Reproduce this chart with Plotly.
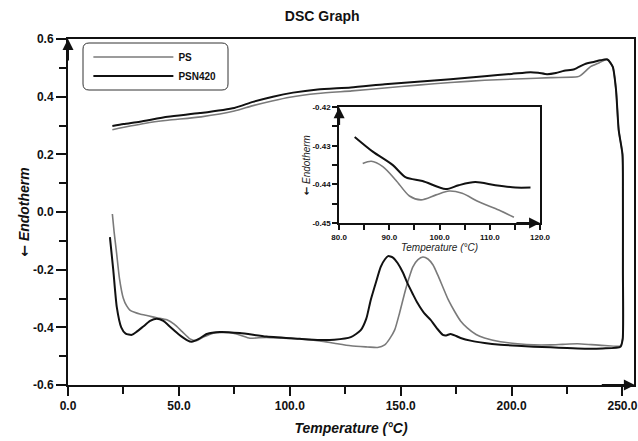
import plotly.graph_objects as go

# ---------------- DATA ----------------
# PSN420 (black) - lower (heating) branch
psn_low_x = [18.9, 20.4, 22, 24, 26, 28.8, 31, 33.8, 37, 40, 43, 46, 50, 53.6, 55.8, 59, 62.6,
             68.5, 77.5, 89.5, 104.5, 113.5, 120, 127.5, 132, 134.5, 136.5, 139, 141, 143, 144.3,
             146.5, 148.6, 151, 153, 155.5, 157.6, 160.5, 163.5, 166.5, 169, 170.5, 172.5, 175,
             177, 182, 187.8, 195, 202.7, 210, 217.6, 225, 233, 241, 249.1]
psn_low_y = [-0.087, -0.2, -0.33, -0.40, -0.422, -0.426, -0.415, -0.398, -0.378, -0.37, -0.378,
             -0.398, -0.425, -0.444, -0.45, -0.44, -0.423, -0.416, -0.42, -0.432, -0.44, -0.444,
             -0.443, -0.434, -0.41, -0.37, -0.305, -0.24, -0.19, -0.163, -0.153, -0.158, -0.177,
             -0.21, -0.246, -0.285, -0.316, -0.35, -0.374, -0.405, -0.426, -0.428, -0.423, -0.43,
             -0.437, -0.447, -0.454, -0.46, -0.464, -0.467, -0.469, -0.472, -0.474, -0.473, -0.467]
# return branch at 250 °C (shared shape)
turn_x = [250.1, 250.2, 250.2, 250.0, 248.3, 247.1, 245.6]
turn_y = [-0.44, -0.2, 0.05, 0.2, 0.284, 0.423, 0.504]
# PSN420 upper branch (from hot end back to start)
psn_up_x = [243.2, 240, 237.4, 233, 228.3, 223.7, 220, 216, 212, 208.5, 200, 187.8, 172.5, 157.6,
            142.8, 127.5, 112.6, 101.5, 92.4, 83.4, 75, 59.5, 45, 32.4, 25, 20]
psn_up_y = [0.529, 0.526, 0.521, 0.513, 0.495, 0.49, 0.482, 0.478, 0.483, 0.485, 0.479, 0.471,
            0.46, 0.452, 0.443, 0.432, 0.425, 0.414, 0.40, 0.382, 0.361, 0.343, 0.33, 0.313,
            0.305, 0.298]

# PS (grey) - lower branch
ps_low_x = [20, 20.8, 21.9, 23.2, 24.9, 26.4, 27.9, 30, 32.4, 36, 40, 44.6, 48, 51.5, 55, 58,
            61, 65.5, 70, 74.5, 78, 82, 86, 89.5, 97, 104.5, 113.5, 120, 127.5, 135, 139.6,
            142.8, 145, 147.3, 149.5, 151.8, 153.7, 155.5, 157.8, 160, 162.3, 164.6, 166.8,
            169, 171.5, 174.4, 177, 180, 184, 187.8, 195, 202.7, 210, 217.6, 223, 229.7, 236,
            242, 249.1]
ps_low_y = [-0.007, -0.07, -0.142, -0.23, -0.298, -0.325, -0.34, -0.348, -0.354, -0.36, -0.367,
            -0.374, -0.39, -0.415, -0.44, -0.446, -0.434, -0.42, -0.418, -0.42, -0.428, -0.438,
            -0.436, -0.435, -0.438, -0.44, -0.447, -0.455, -0.464, -0.468, -0.47, -0.461, -0.44,
            -0.409, -0.35, -0.281, -0.23, -0.19, -0.165, -0.156, -0.163, -0.184, -0.22, -0.26,
            -0.305, -0.346, -0.378, -0.402, -0.425, -0.437, -0.45, -0.457, -0.461, -0.461,
            -0.459, -0.457, -0.46, -0.463, -0.464]
ps_up_x = [243.2, 239.6, 237.5, 235.6, 233, 231, 229.7, 217.6, 205, 187.8, 172.5, 157.6, 142.8,
           128, 112.6, 100, 92, 83, 75, 60, 45, 35, 28, 20]
ps_up_y = [0.529, 0.518, 0.511, 0.504, 0.486, 0.473, 0.469, 0.466, 0.462, 0.457, 0.449, 0.44,
           0.43, 0.42, 0.411, 0.398, 0.385, 0.368, 0.35, 0.33, 0.318, 0.308, 0.298, 0.285]

# inset (zoom of upper branch)
in_psn_x = [83.1, 86.7, 90.7, 93.3, 96.6, 101.2, 103.8, 107.1, 111.1, 115.1, 118.1]
in_psn_y = [-0.4277, -0.4315, -0.435, -0.4382, -0.4391, -0.4412, -0.4402, -0.4394, -0.4402,
            -0.4408, -0.4408]
in_ps_x = [84.7, 86.4, 88.7, 91.3, 94.0, 96.3, 99.3, 101.9, 104.5, 107.8, 111.8, 114.8]
in_ps_y = [-0.4346, -0.4340, -0.4354, -0.4389, -0.443, -0.444, -0.4427, -0.4417, -0.4423,
           -0.4445, -0.4466, -0.4485]

x_ticks = [0, 50, 100, 150, 200, 250]
x_ticktext = ["0.0", "50.0", "100.0", "150.0", "200.0", "250.0"]
y_ticks = [0.6, 0.4, 0.2, 0.0, -0.2, -0.4, -0.6]
y_ticktext = ["0.6", "0.4", "0.2", "0.0", "-0.2", "-0.4", "-0.6"]
in_x_ticks = [80, 90, 100, 110, 120]
in_x_ticktext = ["80.0", "90.0", "100.0", "110.0", "120.0"]
in_y_ticks = [-0.42, -0.43, -0.44, -0.45]
in_y_ticktext = ["-0.42", "-0.43", "-0.44", "-0.45"]

series_names = ["PS", "PSN420"]
# --------------------------------------

FONT = "Liberation Sans, Arial, sans-serif"
GREY = "#7a7a7a"
BLACK = "#111111"
ARROW = ('<span style="font-family:DejaVu Sans;font-weight:bold;font-style:normal;'
         'fill:#111111">←</span>')

fig = go.Figure()

fig.add_trace(go.Scatter(x=ps_low_x + turn_x + ps_up_x, y=ps_low_y + turn_y + ps_up_y,
                         mode="lines", name=series_names[0],
                         line=dict(color=GREY, width=1.6, shape="spline", smoothing=0.6)))
fig.add_trace(go.Scatter(x=psn_low_x + turn_x + psn_up_x, y=psn_low_y + turn_y + psn_up_y,
                         mode="lines", name=series_names[1],
                         line=dict(color=BLACK, width=2.0, shape="spline", smoothing=0.6)))
fig.add_trace(go.Scatter(x=in_ps_x, y=in_ps_y, mode="lines", showlegend=False,
                         xaxis="x2", yaxis="y2",
                         line=dict(color=GREY, width=1.6, shape="spline", smoothing=0.8)))
fig.add_trace(go.Scatter(x=in_psn_x, y=in_psn_y, mode="lines", showlegend=False,
                         xaxis="x2", yaxis="y2",
                         line=dict(color=BLACK, width=2.0, shape="spline", smoothing=0.8)))

bold = dict(family=FONT, size=12, color="#111", weight="bold")
small = dict(family=FONT, size=8, color="#111", weight="bold")

fig.update_layout(
    width=638, height=441,
    margin=dict(l=68, r=4, t=39, b=56, autoexpand=False),
    paper_bgcolor="white", plot_bgcolor="white",
    font=dict(family=FONT, color="#111"),
    title=dict(text="DSC Graph", x=0.505, xanchor="center", y=0.963, yanchor="middle",
               font=dict(family=FONT, size=14, weight="bold", color="#111")),
    xaxis=dict(range=[0, 255.2], domain=[0, 1], showline=True, linecolor="#111", linewidth=2,
               mirror=True, showgrid=False, zeroline=False, automargin=False,
               tickmode="array", tickvals=x_ticks, ticktext=x_ticktext,
               ticks="outside", ticklen=9, tickwidth=2, tickcolor="#111", tickfont=bold,
               minor=dict(tickvals=[25, 75, 125, 175, 225], ticks="outside", ticklen=7,
                          tickwidth=2, tickcolor="#111"),
               title=dict(text="Temperature (°C)", standoff=11,
                          font=dict(family=FONT, size=14, weight="bold", style="italic",
                                    color="#111"))),
    yaxis=dict(range=[-0.6, 0.6], domain=[0, 1], showline=True, linecolor="#111", linewidth=2,
               mirror=True, showgrid=False, zeroline=False, automargin=False,
               tickmode="array", tickvals=y_ticks, ticktext=y_ticktext,
               ticks="outside", ticklen=10, tickwidth=2, tickcolor="#111", tickfont=bold,
               minor=dict(tickvals=[0.5, 0.3, 0.1, -0.1, -0.3, -0.5], ticks="outside",
                          ticklen=7, tickwidth=2, tickcolor="#111"),
               title=dict(text=ARROW + " Endotherm", standoff=0,
                          font=dict(family=FONT, size=14, weight="bold", style="italic",
                                    color="#111"))),
    xaxis2=dict(range=[80, 120], domain=[0.479, 0.834], anchor="y2", showline=True,
                linecolor="#111", linewidth=1.8, mirror=True, showgrid=False, zeroline=False,
                automargin=False,
                tickmode="array", tickvals=in_x_ticks, ticktext=in_x_ticktext,
                ticks="outside", ticklen=5, tickwidth=1.5, tickcolor="#111", tickfont=small,
                minor=dict(tickvals=[85, 95, 105, 115], ticks="outside", ticklen=5,
                           tickwidth=1.5, tickcolor="#111"),
                title=dict(text="Temperature (°C)", standoff=3,
                           font=dict(family=FONT, size=10, style="italic", color="#222"))),
    yaxis2=dict(range=[-0.45, -0.42], domain=[0.468, 0.803], anchor="x2", showline=True,
                linecolor="#111", linewidth=1.8, mirror=True, showgrid=False, zeroline=False,
                automargin=False,
                tickmode="array", tickvals=in_y_ticks, ticktext=in_y_ticktext,
                ticks="outside", ticklen=5, tickwidth=1.5, tickcolor="#111", tickfont=small,
                minor=dict(tickvals=[-0.425, -0.435, -0.445], ticks="outside", ticklen=5,
                           tickwidth=1.5, tickcolor="#111"),
                title=dict(text=ARROW + " Endotherm", standoff=0,
                           font=dict(family=FONT, size=10, style="italic", color="#222"))),
    legend=dict(x=0.036, y=0.99, xanchor="left", yanchor="top", bgcolor="rgba(0,0,0,0)",
                borderwidth=0, itemwidth=80, tracegroupgap=0,
                font=dict(family=FONT, size=10, weight="bold", color="#111")),
    showlegend=True,
)

# rounded legend frame (paper coords)
x0, x1 = (83 - 68) / 566, (228 - 68) / 566
y1, y0 = (385 - 43) / 346, (385 - 90) / 346
rx, ry = 6 / 566, 6 / 346
path = (f"M {x0+rx},{y0} L {x1-rx},{y0} Q {x1},{y0} {x1},{y0+ry} L {x1},{y1-ry} "
        f"Q {x1},{y1} {x1-rx},{y1} L {x0+rx},{y1} Q {x0},{y1} {x0},{y1-ry} L {x0},{y0+ry} "
        f"Q {x0},{y0} {x0+rx},{y0} Z")
fig.add_shape(type="path", path=path, xref="paper", yref="paper",
              line=dict(color="#333", width=1), fillcolor="rgba(0,0,0,0)")

# axis arrows
arrows = [
    dict(xref="x", yref="y", axref="x", ayref="y", x=0, y=0.6, ax=0, ay=0.52),
    dict(xref="x", yref="y", axref="x", ayref="y", x=255.6, y=-0.6, ax=240, ay=-0.6),
    dict(xref="x2", yref="y2", axref="x2", ayref="y2", x=80, y=-0.42, ax=80, ay=-0.425),
    dict(xref="x2", yref="y2", axref="x2", ayref="y2", x=120, y=-0.45, ax=115, ay=-0.45),
]
for a in arrows:
    fig.add_annotation(text="", showarrow=True, arrowhead=2, arrowsize=1.1, arrowwidth=2,
                       arrowcolor="#111", **a)

fig.write_html("out.html", config={"displayModeBar": False},
               post_script="document.body.style.margin='0';")
